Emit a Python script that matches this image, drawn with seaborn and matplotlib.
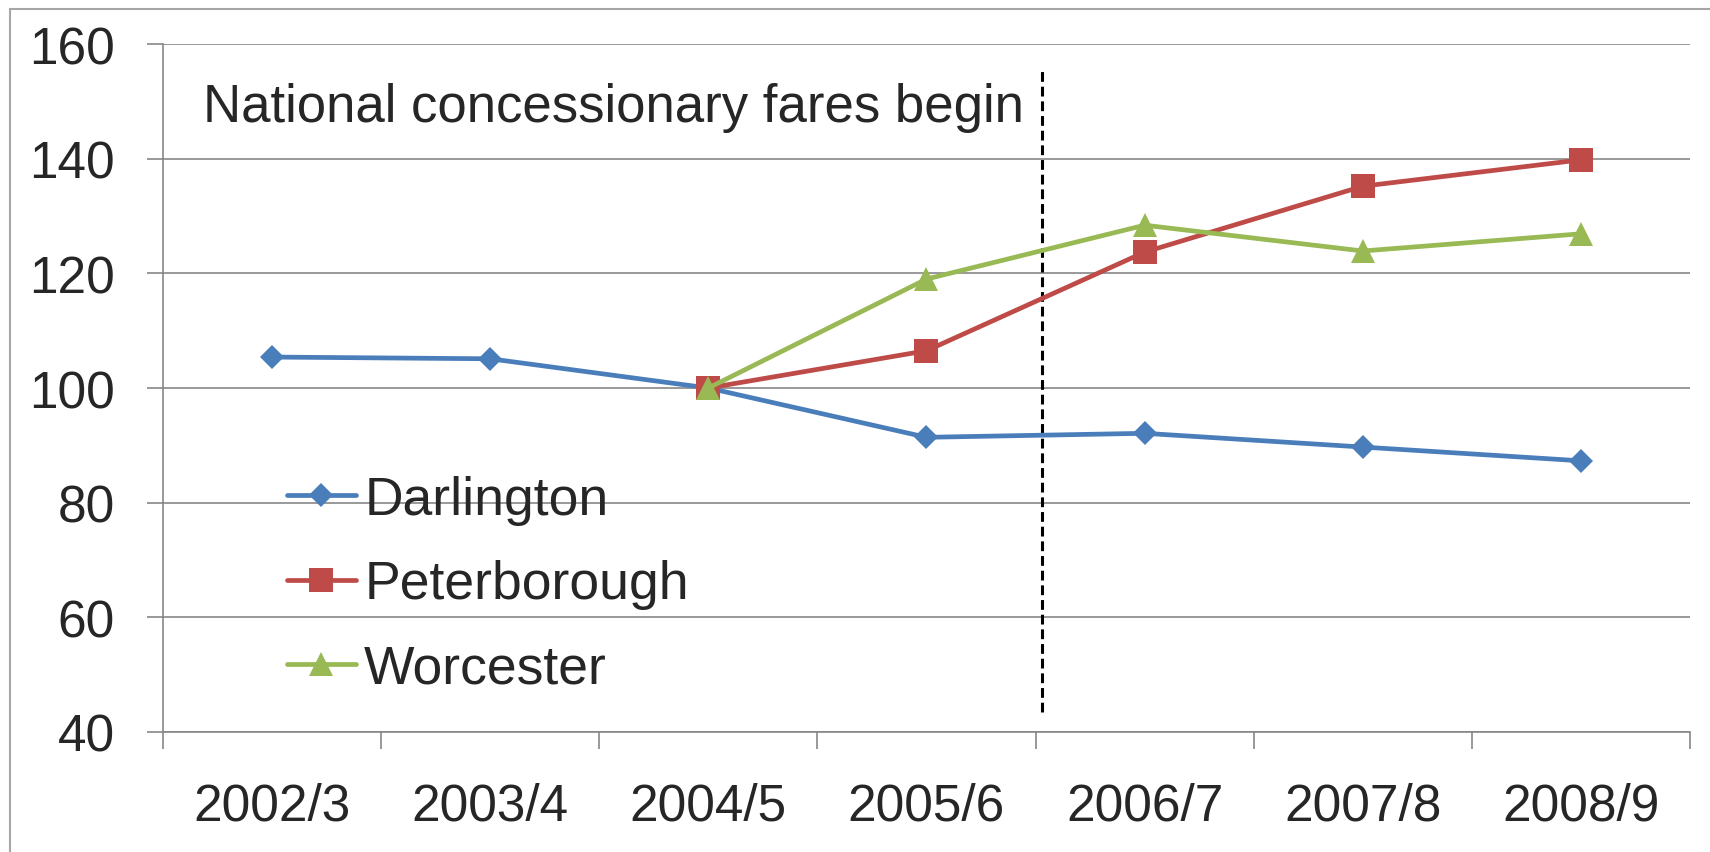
import numpy as np
import pandas as pd
import seaborn as sns
import matplotlib.pyplot as plt
from matplotlib.patches import Rectangle
from matplotlib.ticker import FixedLocator

# index of bus journeys, 2004/5 = 100
years = ['2002/3', '2003/4', '2004/5', '2005/6', '2006/7', '2007/8', '2008/9']
darlington = [105.4, 105.1, 100.0, 91.4, 92.1, 89.7, 87.3]
peterborough = [np.nan, np.nan, 100.0, 106.5, 123.7, 135.2, 139.8]
worcester = [np.nan, np.nan, 100.0, 119.0, 128.4, 123.9, 126.9]

series_names = ['Darlington', 'Peterborough', 'Worcester']
series_values = [darlington, peterborough, worcester]
series_colors = ['#4A7EBB', '#BE4B48', '#98B954']
series_markers = ['D', 's', '^']
series_msize = [12.5, 17, 17.5]

event_label = 'National concessionary fares begin'
event_x = 3.53          # just after the 2005/6 | 2006/7 boundary
event_span = (43.5, 155.8)

y_ticks = [40, 60, 80, 100, 120, 140, 160]


def make_chart():
    sns.set_style('white')
    plt.rcParams['font.family'] = ['Liberation Sans', 'DejaVu Sans']
    grey = '#878787'

    fig = plt.figure(figsize=(17.1, 8.53), dpi=100)
    ax = fig.add_axes([0.0953, 0.1407, 0.893, 0.8065])

    pos = np.arange(len(years))
    for name, vals, col, mk, ms in zip(series_names, series_values, series_colors,
                                        series_markers, series_msize):
        df = pd.DataFrame({'pos': pos, 'value': vals}).dropna()
        sns.lineplot(data=df, x='pos', y='value', ax=ax, color=col, linewidth=3.4,
                     marker=mk, markersize=ms, markeredgewidth=0,
                     markeredgecolor=col, label=name, zorder=3)

    ax.vlines(event_x, *event_span, colors='black', lw=2.2,
              linestyles=(0, (3.2, 1.6)), zorder=2)
    ax.text(-0.317, 146.6, event_label, fontsize=38, va='baseline', ha='left')

    ax.set_xlim(-0.5, len(years) - 0.5)
    ax.set_ylim(40, 160)
    ax.set_yticks(y_ticks)
    ax.set_xticks(pos)
    ax.set_xticklabels(years)
    ax.xaxis.set_minor_locator(FixedLocator(np.arange(len(years) + 1) - 0.5))
    ax.set_xlabel('')
    ax.set_ylabel('')

    ax.yaxis.grid(True, color=grey, lw=1.2)
    ax.set_axisbelow(True)
    for s in ['top', 'right']:
        ax.spines[s].set_visible(False)
    for s in ['left', 'bottom']:
        ax.spines[s].set_color(grey)
        ax.spines[s].set_linewidth(1.2)

    ax.tick_params(axis='y', which='major', length=11.5, width=1.2, color=grey,
                   pad=23, labelsize=37, direction='out', left=True)
    ax.tick_params(axis='x', which='major', length=0, pad=36, labelsize=37)
    ax.tick_params(axis='x', which='minor', length=12, width=1.2, color=grey,
                   direction='out', bottom=True)

    ax.legend(loc='upper left', bbox_to_anchor=(0.081, 0.3735), frameon=False,
              fontsize=38.5, handlelength=1.3, handletextpad=0.15,
              labelspacing=0.64, borderpad=0, borderaxespad=0)

    # outer chart border
    fig.add_artist(Rectangle((10 / 1710, -0.02), 1.02, (853 - 10) / 853 + 0.02,
                             transform=fig.transFigure, fill=False,
                             ec='#a6a6a6', lw=1.5, clip_on=False))

    fig.savefig('out.png', dpi=100)


if __name__ == "__main__":
    make_chart()
